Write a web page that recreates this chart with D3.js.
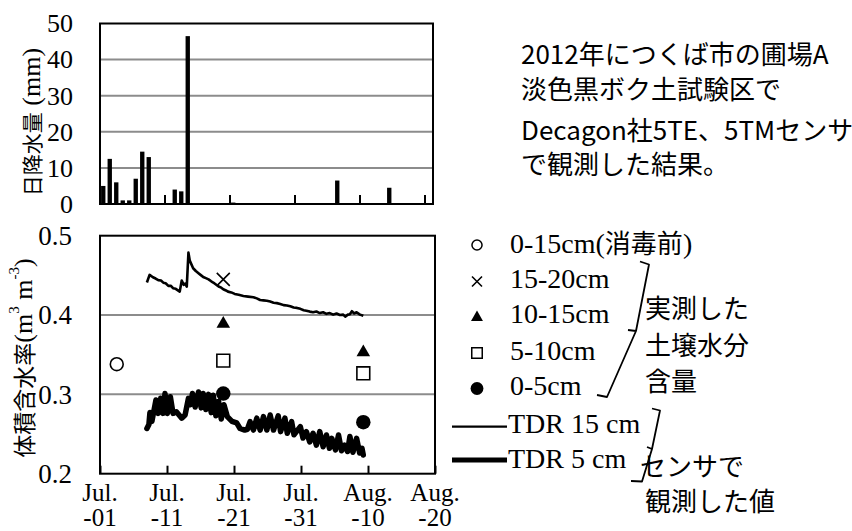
<!DOCTYPE html>
<html><head><meta charset="utf-8">
<script src="https://cdn.jsdelivr.net/npm/d3@7"></script>
<style>body{margin:0;background:#fff}svg{display:block}</style>
</head><body>
<svg id="c" width="852" height="531"></svg>
<script>
// ---------- DATA ----------
// daily rainfall (mm), Jul 1 .. Aug 20 2012
const rainfall = [5,12.5,6,1,1,7,14.5,13,0,0, 0,4,3.5,46.5,0,0,0,0,0,0,
                  0.4,0,0,0,0,0,0,0,0,0, 0,0,0,0,0,0,6.5,0,0,0,
                  0,0,0,0,4.5,0,0,0,0,0, 0];
const rainTicks = [0,10,20,30,40,50];
const rainAxisTicks = [10,20,30,40,50];

const xTickDays = [0,10,20,30,40,50];
const xTickMonth = ["Jul.","Jul.","Jul.","Jul.","Aug.","Aug."];
const xTickDay = ["-01","-11","-21","-31","-10","-20"];
const yTicks = [0.2,0.3,0.4,0.5];

// TDR 15 cm (days since Jul 1, volumetric water content)
const tdr15Day = [7.0,7.4,7.9,8.3,8.7,9.1,9.45,9.8,10.2,10.55,10.9,11.3,11.9,12.2,12.5,12.7,12.95,13.2,13.4,13.9,
  14.3,14.7,15.1,15.4,15.8,16.2,16.6,16.9,17.3,17.7,18.1,18.4,18.8,19.1,19.6,20.1,20.7,21.4,22.1,22.9,
  23.4,23.9,24.4,24.9,25.4,25.9,26.4,26.9,27.4,27.9,28.4,28.9,29.4,29.9,30.4,30.8,31.3,31.8,32.3,32.8,
  33.3,33.8,34.3,34.8,35.3,35.8,36.3,36.6,37.0,37.3,37.6,37.9,38.3,38.8,39.3];
const tdr15Val = [0.441,0.4506,0.4476,0.446,0.444,0.4435,0.4408,0.440,0.4367,0.437,0.4338,0.433,0.4295,0.4434,0.438,0.4395,0.4358,0.4787,0.4686,0.459,
  0.4555,0.4527,0.450,0.448,0.4465,0.445,0.4425,0.441,0.4385,0.436,0.4345,0.4325,0.431,0.4295,0.4285,0.4266,0.4255,0.424,0.4232,0.4224,
  0.421,0.419,0.4185,0.418,0.417,0.4155,0.415,0.414,0.4125,0.412,0.411,0.4095,0.409,0.4078,0.406,0.4055,0.4043,0.4035,0.4045,0.4025,
  0.4035,0.4015,0.4025,0.4005,0.402,0.400,0.4005,0.398,0.4005,0.401,0.4048,0.402,0.4035,0.4005,0.399];

// TDR 5 cm
const tdr5Day = [7.0,7.3,7.45,7.75,8.35,8.7,9.05,9.4,9.7,10.05,10.5,10.9,11.4,12.2,12.7,13.2,13.5,13.8,14.2,14.7,
  15.1,15.4,15.8,16.2,16.6,16.9,17.3,17.7,18.1,18.5,19.0,19.7,20.4,20.9,21.6,22.0,22.4,22.9,23.4,23.9,
  24.4,24.9,25.4,25.9,26.6,26.95,27.6,27.95,28.6,28.95,29.9,30.3,30.8,31.3,31.8,32.3,32.8,33.3,33.8,34.25,
  34.6,35.15,35.6,36.05,36.5,36.95,37.3,37.75,38.3,38.75,39.1,39.3];
const tdr5Val = [0.257,0.262,0.277,0.266,0.293,0.276,0.295,0.276,0.301,0.276,0.297,0.276,0.278,0.270,0.274,0.295,0.287,0.301,0.284,0.303,
  0.283,0.301,0.281,0.300,0.277,0.299,0.273,0.291,0.269,0.287,0.272,0.266,0.264,0.257,0.255,0.256,0.2656,0.255,0.270,0.255,
  0.272,0.255,0.274,0.255,0.273,0.253,0.270,0.251,0.2656,0.249,0.2593,0.245,0.253,0.240,0.251,0.236,0.253,0.234,0.2488,0.232,
  0.2446,0.230,0.2488,0.229,0.236,0.228,0.247,0.227,0.2446,0.226,0.232,0.2236];

// measured soil water content
const obs015Day = [2.5],       obs015Val = [0.338];   // 0-15cm (before disinfection)
const obs1520Day = [18.4],     obs1520Val = [0.445];
const obs1015Day = [18.4,39.3], obs1015Val = [0.389,0.353];
const obs510Day = [18.4,39.3],  obs510Val = [0.3425,0.3266];
const obs05Day = [18.4,39.3],   obs05Val = [0.301,0.265];

const legendLabels = ["0-15cm(消毒前)","15-20cm","10-15cm","5-10cm","0-5cm"];
const lineLabels = ["TDR 15 cm","TDR 5 cm"];
const noteLines = ["2012年につくば市の圃場A","淡色黒ボク土試験区で","Decagon社5TE、5TMセンサ","で観測した結果。"];
const groupA = ["実測した","土壌水分","含量"];
const groupB = ["センサで","観測した値"];

// ---------- DRAW ----------
const svg = d3.select("#c");
const SERIF = "'Liberation Serif', 'Times New Roman', serif";
const JP = "'Noto Sans CJK JP', sans-serif";
const GRID = "#8c8c8c";

// ===== Top chart (rainfall) =====
const T = {l:100, r:433, t:23.5, b:204};
const xb = d3.scaleBand().domain(d3.range(rainfall.length)).range([T.l, T.l + 6.5*rainfall.length]).paddingInner(0.33).paddingOuter(0.165);
const yr = d3.scaleLinear().domain([0,50]).range([T.b, T.t]);
const gTop = svg.append("g");
gTop.selectAll("line.g").data(rainTicks.filter(d=>d>0&&d<50)).join("line")
  .attr("x1",T.l).attr("x2",T.r).attr("y1",d=>yr(d)).attr("y2",d=>yr(d))
  .attr("stroke",GRID).attr("stroke-width",2);
gTop.selectAll("rect.bar").data(rainfall).join("rect")
  .attr("x",(d,i)=>xb(i)).attr("width",xb.bandwidth())
  .attr("y",d=>yr(d)).attr("height",d=>yr(0)-yr(d)).attr("fill","#000");
const stepB = xb.step();
gTop.selectAll("line.tk").data(rainAxisTicks).join("line")
  .attr("x1",d=>T.l+stepB*d).attr("x2",d=>T.l+stepB*d).attr("y1",T.b).attr("y2",T.b-9)
  .attr("stroke","#000").attr("stroke-width",2);
gTop.append("rect").attr("x",T.l).attr("y",T.t).attr("width",T.r-T.l).attr("height",T.b-T.t)
  .attr("fill","none").attr("stroke","#000").attr("stroke-width",2);
const ayT = gTop.append("g").attr("transform",`translate(${T.l},0)`)
  .call(d3.axisLeft(yr).tickValues(rainTicks).tickSize(0).tickPadding(27).tickFormat(d3.format("d")));
ayT.select(".domain").remove();
ayT.selectAll("text").attr("font-family",SERIF).attr("font-size",26).attr("fill","#000");
const lt = svg.append("text").attr("transform","translate(31,122) rotate(-90)")
  .attr("text-anchor","middle").attr("dominant-baseline","central").attr("fill","#000");
lt.append("tspan").attr("font-family",JP).attr("font-size",21).text("日降水量");
lt.append("tspan").attr("font-family",SERIF).attr("font-size",26).text(" (mm)");

// ===== Bottom chart =====
const B = {l:100, r:435, t:235.7, b:473.7};
const x = d3.scaleLinear().domain([0,50]).range([B.l,B.r]);
const y = d3.scaleLinear().domain([0.2,0.5]).range([B.b,B.t]);
const gBot = svg.append("g");
gBot.selectAll("line.g").data([0.3,0.4]).join("line")
  .attr("x1",B.l).attr("x2",B.r).attr("y1",d=>y(d)).attr("y2",d=>y(d))
  .attr("stroke",GRID).attr("stroke-width",2);
const ax = gBot.append("g").attr("transform",`translate(0,${B.b})`)
  .call(d3.axisBottom(x).tickValues(xTickDays).tickSize(-8).tickFormat(""));
ax.select(".domain").remove();
ax.selectAll("line").attr("stroke","#000").attr("stroke-width",2);
const xl = gBot.selectAll("text.xl").data(xTickDays).join("text")
  .attr("font-family",SERIF).attr("font-size",25).attr("text-anchor","middle");
xl.append("tspan").attr("x",d=>x(d)).attr("y",501).text((d,i)=>xTickMonth[i]);
xl.append("tspan").attr("x",d=>x(d)).attr("y",526).text((d,i)=>xTickDay[i]);
gBot.append("rect").attr("x",B.l).attr("y",B.t).attr("width",B.r-B.l).attr("height",B.b-B.t)
  .attr("fill","none").attr("stroke","#000").attr("stroke-width",2);
const ayB = gBot.append("g").attr("transform",`translate(${B.l},0)`)
  .call(d3.axisLeft(y).tickValues(yTicks).tickSize(0).tickPadding(28).tickFormat(d3.format(".1f")));
ayB.select(".domain").remove();
ayB.selectAll("text").attr("font-family",SERIF).attr("font-size",27).attr("fill","#000");
const lb = svg.append("text").attr("transform","translate(23,358) rotate(-90)")
  .attr("text-anchor","middle").attr("dominant-baseline","central");
lb.append("tspan").attr("font-family",JP).attr("font-size",23).text("体積含水率");
lb.append("tspan").attr("font-family",SERIF).attr("font-size",26).text("(m");
lb.append("tspan").attr("font-family",SERIF).attr("font-size",15).attr("dy",-9).text("3");
lb.append("tspan").attr("font-family",SERIF).attr("font-size",26).attr("dy",9).text(" m");
lb.append("tspan").attr("font-family",SERIF).attr("font-size",15).attr("dy",-9).text("-3");
lb.append("tspan").attr("font-family",SERIF).attr("font-size",26).attr("dy",9).text(")");

const line = d3.line().x(d=>x(d[0])).y(d=>y(d[1]));
gBot.append("path").datum(d3.zip(tdr15Day,tdr15Val)).attr("d",line)
  .attr("fill","none").attr("stroke","#000").attr("stroke-width",2.6).attr("stroke-linejoin","round");
gBot.append("path").datum(d3.zip(tdr5Day,tdr5Val)).attr("d",line)
  .attr("fill","none").attr("stroke","#000").attr("stroke-width",5.5).attr("stroke-linejoin","round").attr("stroke-linecap","round");

// markers
function xMark(g, cx, cy, s){
  const p = d3.path(); p.moveTo(cx-s,cy-s); p.lineTo(cx+s,cy+s); p.moveTo(cx-s,cy+s); p.lineTo(cx+s,cy-s);
  g.append("path").attr("d",p.toString()).attr("stroke","#000").attr("stroke-width",1.6).attr("fill","none");
}
const symOpen = d3.symbol().type(d3.symbolCircle).size(130)();
const symTri = d3.symbol().type(d3.symbolTriangle).size(80)();
const symSq = d3.symbol().type(d3.symbolSquare).size(165)();
const symDot = d3.symbol().type(d3.symbolCircle).size(165)();
gBot.selectAll("path.o").data(d3.zip(obs015Day,obs015Val)).join("path")
  .attr("d",symOpen).attr("transform",d=>`translate(${x(d[0])},${y(d[1])})`).attr("fill","#fff").attr("stroke","#000").attr("stroke-width",1.6);
d3.zip(obs1520Day,obs1520Val).forEach(d=>xMark(gBot,x(d[0]),y(d[1]),6.5));
gBot.selectAll("path.t").data(d3.zip(obs1015Day,obs1015Val)).join("path")
  .attr("d",symTri).attr("transform",d=>`translate(${x(d[0])},${y(d[1])})`).attr("fill","#000");
gBot.selectAll("path.s").data(d3.zip(obs510Day,obs510Val)).join("path")
  .attr("d",symSq).attr("transform",d=>`translate(${x(d[0])},${y(d[1])})`).attr("fill","#fff").attr("stroke","#000").attr("stroke-width",1.6);
gBot.selectAll("path.d").data(d3.zip(obs05Day,obs05Val)).join("path")
  .attr("d",symDot).attr("transform",d=>`translate(${x(d[0])},${y(d[1])})`).attr("fill","#000");

// ===== Legend =====
const leg = svg.append("g");
const legBase = [253,288,323,360,395];
const legMark = [245,281.5,316.5,353,388.5];
const mx = 477;
leg.append("path").attr("d",d3.symbol().type(d3.symbolCircle).size(80)()).attr("transform",`translate(${mx},${legMark[0]})`).attr("fill","#fff").attr("stroke","#000").attr("stroke-width",1.5);
xMark(leg, mx, legMark[1], 5);
leg.append("path").attr("d",d3.symbol().type(d3.symbolTriangle).size(62)()).attr("transform",`translate(${mx},${legMark[2]+1})`).attr("fill","#000");
leg.append("path").attr("d",d3.symbol().type(d3.symbolSquare).size(110)()).attr("transform",`translate(${mx},${legMark[3]})`).attr("fill","#fff").attr("stroke","#000").attr("stroke-width",1.5);
leg.append("path").attr("d",d3.symbol().type(d3.symbolCircle).size(130)()).attr("transform",`translate(${mx},${legMark[4]})`).attr("fill","#000");
legendLabels.forEach((t,i)=>{
  const tx = leg.append("text").attr("x",510).attr("y",legBase[i]).attr("font-family",SERIF).attr("font-size",28);
  if(i===0){
    tx.append("tspan").text("0-15cm(");
    tx.append("tspan").attr("font-family",JP).attr("font-size",26).text("消毒前");
    tx.append("tspan").text(")");
  } else tx.text(t);
});
[[426.7,2.2,433],[460,5,468]].forEach((a,i)=>{
  leg.append("line").attr("x1",452).attr("x2",507).attr("y1",a[0]).attr("y2",a[0]).attr("stroke","#000").attr("stroke-width",a[1]);
  leg.append("text").attr("x",508).attr("y",a[2]).attr("font-family",SERIF).attr("font-size",28).text(lineLabels[i]);
});
// brackets
const br = svg.append("g").attr("fill","none").attr("stroke","#000").attr("stroke-width",1.8).attr("stroke-linejoin","round");
br.append("path").attr("d","M640,261.5 L649,264.5 L636,331 M636,331 L628,330 M636,331 L607,397 L597,395");
br.append("path").attr("d","M652,408.5 L660,410.5 L652,449 M652,449 L647,447 M652,449 L642,481.5 L631,481");

// group labels
groupA.forEach((t,i)=>svg.append("text").attr("x",645).attr("y",[318,355,391][i]).attr("font-family",JP).attr("font-size",26).text(t));
groupB.forEach((t,i)=>svg.append("text").attr("x",[640,645][i]).attr("y",[476,511][i]).attr("font-family",JP).attr("font-size",26).text(t));

// note block
noteLines.forEach((t,i)=>svg.append("text").attr("x",521).attr("y",[64,99,140,174][i]).attr("font-family",JP).attr("font-size",26).text(t));
</script>
</body></html>
